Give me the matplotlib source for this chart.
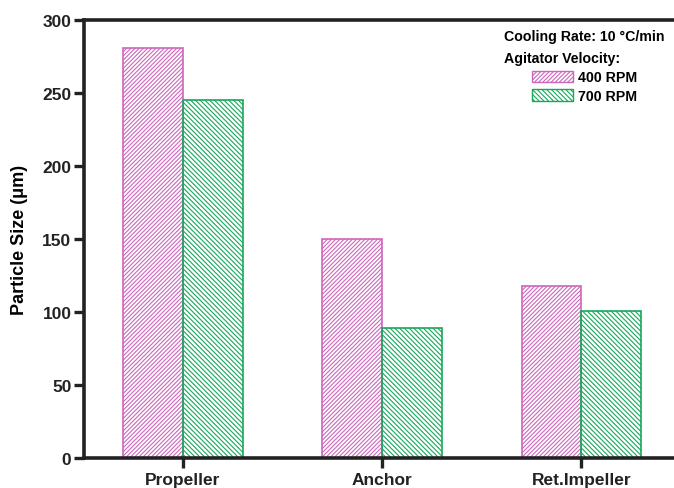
import numpy as np
import matplotlib.pyplot as plt
from matplotlib.patches import Patch

# impeller types and mean particle size (um) at two agitator speeds
impellers = ['Propeller', 'Anchor', 'Ret.Impeller']
size_400rpm = [281, 150, 118]
size_700rpm = [245, 89, 101]

pink = '#cc66bb'
green = '#18a85a'
hatch_pink = '////////'
hatch_green = '\\\\\\\\\\\\\\'

plt.rcParams['font.family'] = ['Liberation Sans', 'DejaVu Sans']
plt.rcParams['font.weight'] = 'bold'
plt.rcParams['hatch.linewidth'] = 0.8

fig = plt.figure(figsize=(6.74, 4.89), dpi=100)
ax = fig.add_axes([0.1246, 0.0613, 0.88, 0.8957])

x = np.arange(len(impellers))
w = 0.30
ax.bar(x - w / 2, size_400rpm, w, facecolor='none', edgecolor=pink,
       hatch=hatch_pink, linewidth=1.2)
ax.bar(x + w / 2, size_700rpm, w, facecolor='none', edgecolor=green,
       hatch=hatch_green, linewidth=1.2)

ax.set_xlim(-0.496, 2.48)
ax.set_ylim(0, 300)
ax.set_xticks(x)
ax.set_xticklabels(impellers, fontsize=12.5, fontweight='bold')
ax.set_yticks([0, 50, 100, 150, 200, 250, 300])
ax.tick_params(axis='both', direction='out', length=7, width=2.4, colors='#222222',
               labelsize=12.5, pad=2)
ax.tick_params(axis='x', labelsize=12.5, pad=3)
ax.set_ylabel('Particle Size (μm)', fontsize=13, fontweight='bold', labelpad=10)

for side in ['left', 'bottom', 'top']:
    ax.spines[side].set_linewidth(2.6)
    ax.spines[side].set_color('#222222')
ax.spines['right'].set_visible(False)

handles = [Patch(facecolor='none', edgecolor=pink, hatch=hatch_pink, label='400 RPM'),
           Patch(facecolor='none', edgecolor=green, hatch=hatch_green, label='700 RPM')]
leg = fig.legend(handles=handles, title='Cooling Rate: 10 °C/min\nAgitator Velocity:',
                 loc='upper right', bbox_to_anchor=(0.999, 0.957), frameon=False,
                 prop={'size': 10.2, 'weight': 'bold'}, handlelength=2.9, handleheight=0.9,
                 handletextpad=0.3, labelspacing=0.35, borderpad=0.1)
title = leg.get_title()
title.set_fontsize(10.2)
title.set_fontweight('bold')
title.set_multialignment('left')
title.set_linespacing(1.8)

fig.savefig('out.png', dpi=100)
